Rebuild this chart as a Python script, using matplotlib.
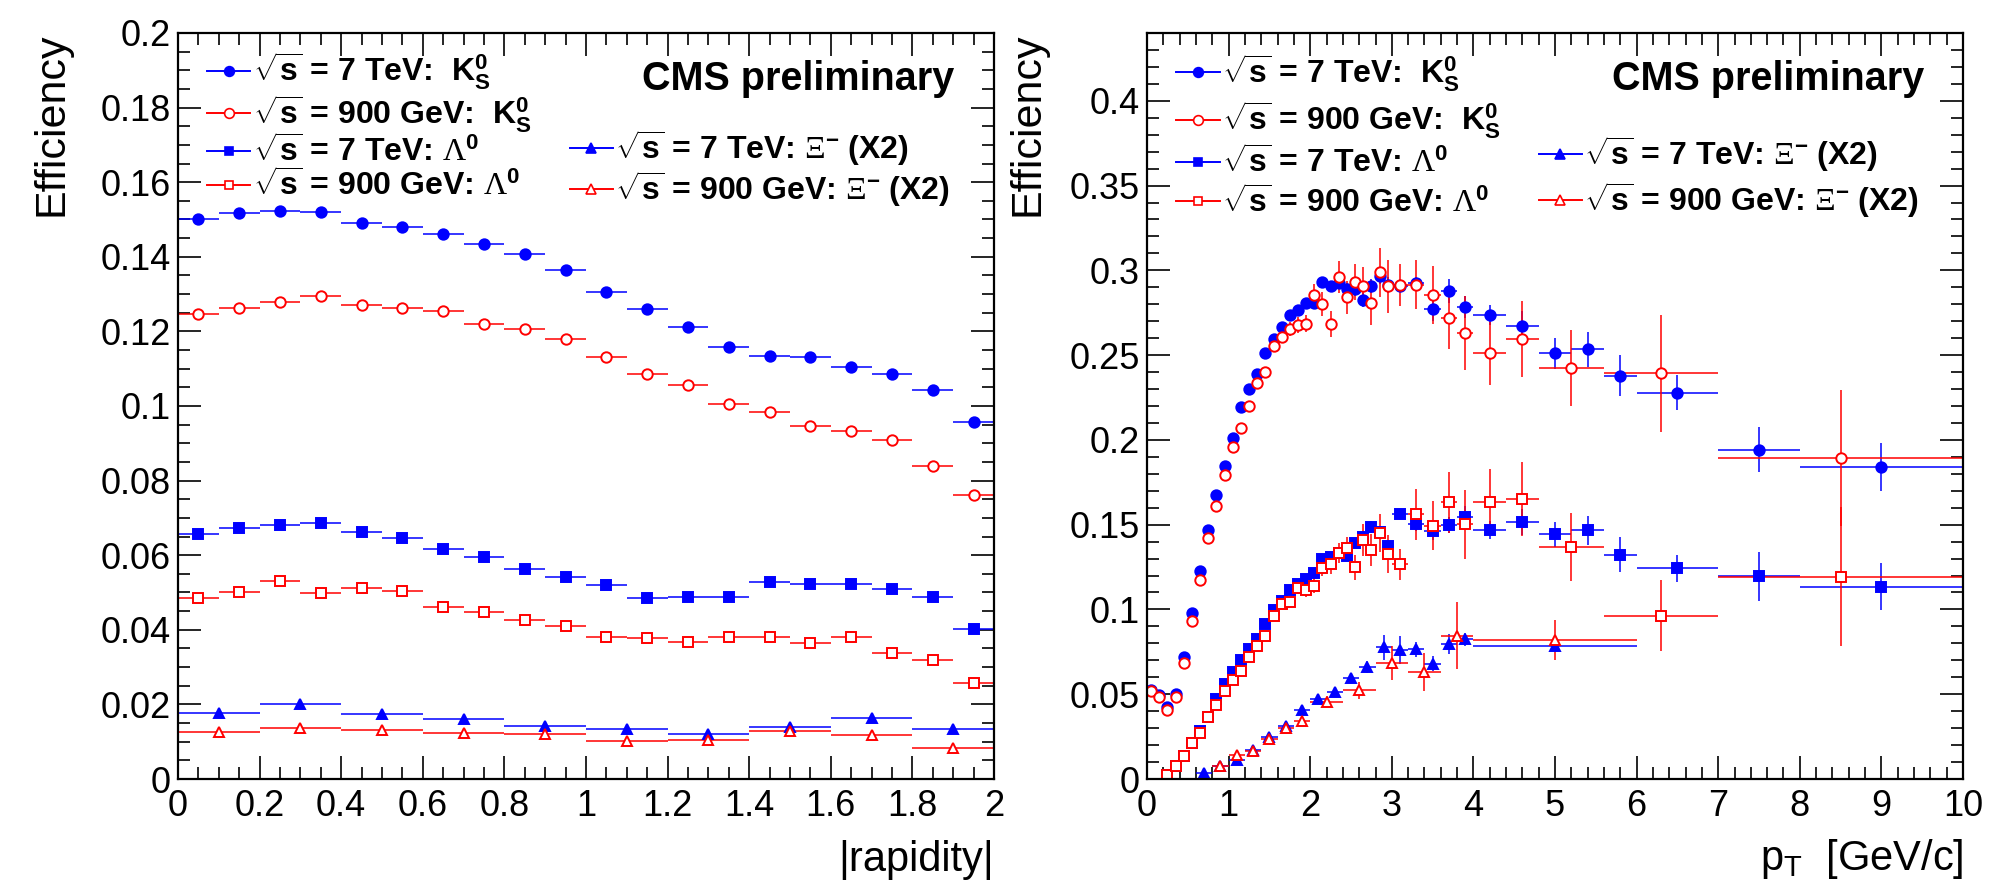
import matplotlib
matplotlib.use("Agg")
import matplotlib.pyplot as plt
import matplotlib.ticker as ticker
from matplotlib.lines import Line2D

plt.rcParams['font.family'] = ['Liberation Sans', 'DejaVu Sans']
plt.rcParams['mathtext.fontset'] = 'custom'
plt.rcParams['mathtext.rm'] = 'Liberation Sans'
plt.rcParams['mathtext.bf'] = 'Liberation Sans:bold'
plt.rcParams['mathtext.it'] = 'Liberation Sans:italic'
plt.rcParams['mathtext.sf'] = 'Liberation Serif'

BLUE = (0, 0, 1)
RED = (1, 0, 0)

# ---- left panel: efficiency vs |rapidity| ----
rap_bins = [0.05, 0.15, 0.25, 0.35, 0.45, 0.55, 0.65, 0.75, 0.85, 0.95,
            1.05, 1.15, 1.25, 1.35, 1.45, 1.55, 1.65, 1.75, 1.85, 1.95]
rap_bins_xi = [0.1, 0.3, 0.5, 0.7, 0.9, 1.1, 1.3, 1.5, 1.7, 1.9]
rap_halfwidth = 0.05
rap_halfwidth_xi = 0.1

rap_k0s_7tev = [0.1502, 0.1517, 0.1524, 0.1520, 0.1491, 0.1479, 0.1461, 0.1435, 0.1407, 0.1364,
                0.1306, 0.1261, 0.1213, 0.1158, 0.1133, 0.1132, 0.1105, 0.1085, 0.1044, 0.0957]
rap_k0s_900 = [0.1247, 0.1262, 0.1280, 0.1296, 0.1272, 0.1263, 0.1255, 0.1221, 0.1207, 0.1180,
               0.1132, 0.1085, 0.1057, 0.1006, 0.0984, 0.0946, 0.0933, 0.0908, 0.0840, 0.0762]
rap_lam_7tev = [0.0656, 0.0674, 0.0681, 0.0685, 0.0663, 0.0645, 0.0617, 0.0596, 0.0563, 0.0542,
                0.0521, 0.0484, 0.0489, 0.0489, 0.0529, 0.0523, 0.0523, 0.0509, 0.0488, 0.0403]
rap_lam_900 = [0.0486, 0.0502, 0.0530, 0.0498, 0.0511, 0.0504, 0.0461, 0.0448, 0.0426, 0.0409,
               0.0380, 0.0378, 0.0368, 0.0380, 0.0381, 0.0365, 0.0380, 0.0339, 0.0320, 0.0257]
rap_xi_7tev = [0.0177, 0.0201, 0.0174, 0.0161, 0.0142, 0.0134, 0.0121, 0.0139, 0.0164, 0.0134]
rap_xi_900 = [0.0126, 0.0137, 0.0132, 0.0124, 0.0121, 0.0102, 0.0104, 0.0129, 0.0118, 0.0083]

# ---- right panel: efficiency vs pT ----
pt_low = [0.05, 0.15, 0.25, 0.35, 0.45, 0.55, 0.65, 0.75, 0.85, 0.95,
          1.05, 1.15, 1.25, 1.35, 1.45, 1.55, 1.65, 1.75, 1.85, 1.95,
          2.05, 2.15, 2.25, 2.35, 2.45, 2.55, 2.65, 2.75, 2.85, 2.95]

pt_k0s_7tev = pt_low + [3.1, 3.3, 3.5, 3.7, 3.9, 4.2, 4.6, 5.0, 5.4, 5.8, 6.5, 7.5, 9.0]
dpt_k0s_7tev = [0.05] * 30 + [0.1] * 5 + [0.2] * 5 + [0.5, 0.5, 1.0]
eff_k0s_7tev = [0.0526, 0.0494, 0.0423, 0.0504, 0.0720, 0.0978, 0.1228, 0.1469, 0.1677, 0.1844,
                0.2010, 0.2192, 0.2298, 0.2391, 0.2514, 0.2597, 0.2666, 0.2735, 0.2767, 0.2810,
                0.2810, 0.2931, 0.2907, 0.2925, 0.2889, 0.2889, 0.2824, 0.2907, 0.2964, 0.2913,
                0.2910, 0.2925, 0.2773, 0.2878, 0.2784, 0.2738, 0.2670, 0.2510, 0.2535, 0.2378,
                0.2278, 0.1943, 0.1840]
err_k0s_7tev = [0.001] * 10 + [0.0015] * 10 + \
               [0.003, 0.003, 0.003, 0.0035, 0.0035, 0.004, 0.004, 0.004, 0.0045, 0.0045] + \
               [0.004, 0.0037, 0.0072, 0.0068, 0.0063, 0.006, 0.009, 0.009, 0.0104, 0.012,
                0.0103, 0.0135, 0.014]

pt_k0s_900 = pt_low + [3.1, 3.3, 3.5, 3.7, 3.9, 4.2, 4.6, 5.2, 6.3, 8.5]
dpt_k0s_900 = [0.05] * 30 + [0.1] * 5 + [0.2, 0.2, 0.4, 0.7, 1.5]
eff_k0s_900 = [0.0520, 0.0484, 0.0407, 0.0484, 0.0687, 0.0931, 0.1175, 0.1419, 0.1610, 0.1792,
               0.1957, 0.2071, 0.2200, 0.2336, 0.2401, 0.2555, 0.2607, 0.2654, 0.2678, 0.2686,
               0.2856, 0.2800, 0.2686, 0.2962, 0.2840, 0.2933, 0.2905, 0.2810, 0.2988, 0.2905,
               0.2915, 0.2915, 0.2856, 0.2718, 0.2631, 0.2510, 0.2594, 0.2424, 0.2392, 0.1892]
err_k0s_900 = [0.0015] * 10 + [0.002, 0.002, 0.0025, 0.003, 0.003, 0.003, 0.0035, 0.004, 0.0045, 0.005] + \
              [0.0065, 0.007, 0.0077, 0.0094, 0.0097, 0.0105, 0.0117, 0.0134, 0.0144, 0.0154] + \
              [0.0125, 0.0145, 0.0172, 0.018, 0.022, 0.0185, 0.0226, 0.0227, 0.0346, 0.04]

pt_lam_7tev = pt_low[2:] + [3.1, 3.3, 3.5, 3.7, 3.9, 4.2, 4.6, 5.0, 5.4, 5.8, 6.5, 7.5, 9.0]
dpt_lam_7tev = [0.05] * 28 + [0.1] * 5 + [0.2] * 5 + [0.5, 0.5, 1.0]
eff_lam_7tev = [0.0022, 0.0077, 0.0138, 0.0211, 0.0285, 0.0364, 0.0470, 0.0559,
                0.0634, 0.0701, 0.0766, 0.0825, 0.0917, 0.0998, 0.1049, 0.1116, 0.1150, 0.1181,
                0.1217, 0.1297, 0.1307, 0.1333, 0.1317, 0.1392, 0.1427, 0.1484, 0.1457, 0.1372,
                0.1565, 0.1502, 0.1461, 0.1498, 0.1548, 0.1468, 0.1516, 0.1443, 0.1466, 0.1323,
                0.1243, 0.1195, 0.1133]
err_lam_7tev = [0.0008] * 8 + [0.0012] * 10 + \
               [0.002, 0.002, 0.002, 0.0025, 0.0025, 0.003, 0.003, 0.0035, 0.0035, 0.004] + \
               [0.003, 0.004, 0.005, 0.005, 0.006, 0.0055, 0.0077, 0.0075, 0.0086, 0.0103,
                0.008, 0.0146, 0.0139]

pt_lam_900 = pt_low[2:] + [3.1, 3.3, 3.5, 3.7, 3.9, 4.2, 4.6, 5.2, 6.3, 8.5]
dpt_lam_900 = [0.05] * 28 + [0.1] * 5 + [0.2, 0.2, 0.4, 0.7, 1.5]
eff_lam_900 = [0.0022, 0.0077, 0.0138, 0.0211, 0.0270, 0.0364, 0.0437, 0.0518,
               0.0583, 0.0638, 0.0719, 0.0783, 0.0844, 0.0959, 0.1033, 0.1043, 0.1126, 0.1116,
               0.1140, 0.1246, 0.1266, 0.1333, 0.1360, 0.1248, 0.1411, 0.1352, 0.1451, 0.1327,
               0.1266, 0.1560, 0.1495, 0.1633, 0.1502, 0.1633, 0.1651, 0.1369, 0.0963, 0.1193]
err_lam_900 = [0.001] * 8 + \
              [0.0015, 0.0015, 0.002, 0.002, 0.0025, 0.0025, 0.003, 0.003, 0.0035, 0.004] + \
              [0.0045, 0.005, 0.0055, 0.006, 0.0065, 0.0076, 0.0094, 0.0094, 0.011, 0.011] + \
              [0.009, 0.015, 0.0144, 0.018, 0.0205, 0.0198, 0.022, 0.020, 0.0208, 0.041]

pt_xi_7tev = [0.7, 0.9, 1.1, 1.3, 1.5, 1.7, 1.9, 2.1, 2.3, 2.5, 2.7, 2.9, 3.1, 3.3, 3.5, 3.7, 3.9, 5.0]
dpt_xi_7tev = [0.1] * 17 + [1.0]
eff_xi_7tev = [0.0037, 0.0079, 0.0112, 0.0171, 0.0246, 0.0315, 0.0407, 0.0472, 0.0514,
               0.0594, 0.0661, 0.0776, 0.0762, 0.0764, 0.0681, 0.0796, 0.0823, 0.0784]
err_xi_7tev = [0.001, 0.001, 0.0012, 0.0015, 0.0015, 0.002, 0.002, 0.0025, 0.003,
               0.003, 0.0035, 0.0074, 0.0084, 0.0044, 0.0045, 0.006, 0.004, 0.003]

pt_xi_900 = [0.9, 1.1, 1.3, 1.5, 1.7, 1.9, 2.2, 2.6, 3.0, 3.4, 3.8, 5.0]
dpt_xi_900 = [0.1] * 6 + [0.2] * 5 + [1.0]
eff_xi_900 = [0.0079, 0.0142, 0.0167, 0.0234, 0.0299, 0.0344, 0.0457, 0.0522,
              0.0683, 0.0631, 0.0846, 0.0819]
err_xi_900 = [0.0015, 0.0025, 0.0015, 0.002, 0.002, 0.0025, 0.003, 0.005,
              0.01, 0.011, 0.02, 0.012]

legend_labels = [
    r'$\sqrt{\mathbf{s}}$ = 7 TeV:  K$_{\mathbf{S}}^{\mathbf{0}}$',
    r'$\sqrt{\mathbf{s}}$ = 900 GeV:  K$_{\mathbf{S}}^{\mathbf{0}}$',
    r'$\sqrt{\mathbf{s}}$ = 7 TeV: $\mathsf{\Lambda}^{\mathbf{0}}$',
    r'$\sqrt{\mathbf{s}}$ = 900 GeV: $\mathsf{\Lambda}^{\mathbf{0}}$',
    r'$\sqrt{\mathbf{s}}$ = 7 TeV: $\mathsf{\Xi}^{\mathbf{-}}$ (X2)',
    r'$\sqrt{\mathbf{s}}$ = 900 GeV: $\mathsf{\Xi}^{\mathbf{-}}$ (X2)',
]

# colour, marker, filled
styles = [
    (BLUE, 'o', True),
    (RED, 'o', False),
    (BLUE, 's', True),
    (RED, 's', False),
    (BLUE, '^', True),
    (RED, '^', False),
]
marker_scale = {'o': 1.0, 's': 0.92, '^': 1.0}


def draw_series(ax, x, y, xerr, yerr, style, ms):
    color, marker, filled = style
    ax.errorbar(x, y, xerr=xerr, yerr=yerr, fmt=marker, color=color,
                ecolor=color, elinewidth=1.1, capsize=0, ms=ms * marker_scale[marker],
                mfc=color if filled else 'white', mec=color, mew=1.4)


def series_handle(style):
    color, marker, filled = style
    return Line2D([], [], color=color, lw=1.4, marker=marker, ms=7 * marker_scale[marker],
                  mfc=color if filled else 'white', mec=color, mew=1.2)


def style_axes(ax, xmajor, xminor, ymajor, yminor):
    for s in ax.spines.values():
        s.set_linewidth(1.6)
    ax.xaxis.set_major_locator(ticker.MultipleLocator(xmajor))
    ax.xaxis.set_minor_locator(ticker.MultipleLocator(xminor))
    ax.yaxis.set_major_locator(ticker.MultipleLocator(ymajor))
    ax.yaxis.set_minor_locator(ticker.MultipleLocator(yminor))
    fmt = ticker.FuncFormatter(lambda v, p: f"{round(v, 6):g}")
    ax.xaxis.set_major_formatter(fmt)
    ax.yaxis.set_major_formatter(fmt)
    ax.tick_params(which='both', direction='in', top=True, right=True, width=1.2)
    ax.tick_params(which='major', length=16.5, labelsize=26)
    ax.tick_params(which='minor', length=8.5)
    ax.tick_params(axis='x', which='major', pad=7)
    ax.tick_params(axis='y', which='major', pad=5)


def add_legends(ax, y1, y2, spacing):
    handles = [series_handle(s) for s in styles]
    prop = dict(size=23, weight='bold')
    common = dict(frameon=False, prop=prop, handlelength=1.35, handletextpad=0.08,
                  labelspacing=spacing, borderpad=0, borderaxespad=0, loc='upper left')
    leg1 = ax.legend(handles[:4], legend_labels[:4], bbox_to_anchor=(0.036, y1), **common)
    ax.add_artist(leg1)
    ax.legend(handles[4:], legend_labels[4:], bbox_to_anchor=(0.48, y2), **common)
    ax.text(0.952, 0.924, 'CMS preliminary', transform=ax.transAxes, ha='right',
            va='baseline', fontsize=28.5, fontweight='bold')


fig = plt.figure(figsize=(19.99, 8.91), dpi=100)

ax1 = fig.add_axes([0.0890, 0.1257, 0.4082, 0.8373])
draw_series(ax1, rap_bins, rap_k0s_7tev, rap_halfwidth, None, styles[0], 7.5)
draw_series(ax1, rap_bins, rap_k0s_900, rap_halfwidth, None, styles[1], 7.5)
draw_series(ax1, rap_bins, rap_lam_7tev, rap_halfwidth, None, styles[2], 7.5)
draw_series(ax1, rap_bins, rap_lam_900, rap_halfwidth, None, styles[3], 7.5)
draw_series(ax1, rap_bins_xi, rap_xi_7tev, rap_halfwidth_xi, None, styles[4], 7.5)
draw_series(ax1, rap_bins_xi, rap_xi_900, rap_halfwidth_xi, None, styles[5], 7.5)
ax1.set_xlim(0, 2)
ax1.set_ylim(0, 0.2)
style_axes(ax1, 0.2, 0.05, 0.02, 0.005)
ax1.set_xlabel('|rapidity|', fontsize=30, loc='right')
ax1.xaxis.set_label_coords(1.0, -0.082)
ax1.set_ylabel('Efficiency', fontsize=31, loc='top')
ax1.yaxis.set_label_coords(-0.130, 1.0)
add_legends(ax1, 0.976, 0.872, 0.03)

ax2 = fig.add_axes([0.5738, 0.1257, 0.4082, 0.8373])
draw_series(ax2, pt_k0s_7tev, eff_k0s_7tev, dpt_k0s_7tev, err_k0s_7tev, styles[0], 7.5)
draw_series(ax2, pt_k0s_900, eff_k0s_900, dpt_k0s_900, err_k0s_900, styles[1], 7.5)
draw_series(ax2, pt_lam_7tev, eff_lam_7tev, dpt_lam_7tev, err_lam_7tev, styles[2], 7.5)
draw_series(ax2, pt_lam_900, eff_lam_900, dpt_lam_900, err_lam_900, styles[3], 7.5)
draw_series(ax2, pt_xi_7tev, eff_xi_7tev, dpt_xi_7tev, err_xi_7tev, styles[4], 7.5)
draw_series(ax2, pt_xi_900, eff_xi_900, dpt_xi_900, err_xi_900, styles[5], 7.5)
ax2.set_xlim(0, 10)
ax2.set_ylim(0, 0.44)
style_axes(ax2, 1, 0.2, 0.05, 0.01)
ax2.set_xlabel(r'p$_\mathrm{T}$  [GeV/c]', fontsize=30, loc='right')
ax2.xaxis.set_label_coords(1.0, -0.078)
ax2.set_ylabel('Efficiency', fontsize=31, loc='top')
ax2.yaxis.set_label_coords(-0.1225, 1.0)
add_legends(ax2, 0.974, 0.864, 0.19)

fig.savefig('out.png', dpi=100)
